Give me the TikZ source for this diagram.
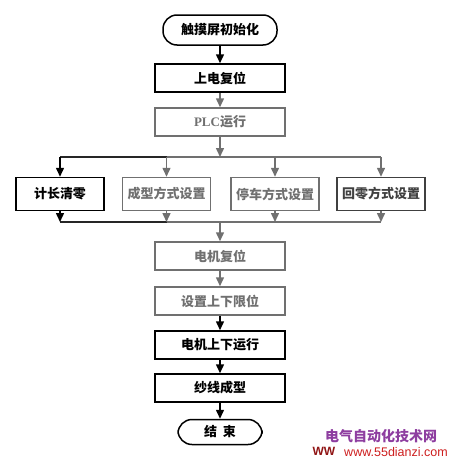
\documentclass[tikz,border=0pt]{standalone}
\usepackage{fontspec}
\setmainfont{Liberation Serif}
\newfontfamily\cjk{Noto Sans CJK SC}
\newfontfamily\webfont{Liberation Sans}
\usetikzlibrary{arrows.meta, positioning, calc}
\definecolor{inkgray}{RGB}{112,112,112}
\definecolor{wmpurple}{RGB}{142,62,160}
\definecolor{wmred}{RGB}{205,30,30}

\begin{document}
\begin{tikzpicture}[x=1pt, y=-1pt,
  proc/.style={draw, line width=1.5pt, minimum width=130pt, minimum height=28pt,
    inner sep=0pt, font=\cjk\bfseries\fontsize{13}{13}\selectfont},
  optbox/.style={proc, minimum width=88pt, minimum height=33pt},
  term/.style={proc, rounded corners=14pt},
  arr/.style={-{Triangle[length=9pt, width=8pt]}, line width=1.5pt},
  bus/.style={line width=1.5pt}]
  \useasboundingbox (0,0) rectangle (460,471);

  % Main column
  \node[term, minimum width=114pt, minimum height=30pt] (init) at (220,30) {触摸屏初始化};
  \node[proc] (reset) at (220,78) {上电复位};
  \node[proc, inkgray] (plc) at (220,122) {{\rmfamily\bfseries PLC}运行};
  \coordinate (bt) at (220,157);

  % Settings
  \node[optbox] (clear) at (60,194) {计长清零};
  \node[optbox, inkgray] (shape) at (166.5,194) {成型方式设置};
  \node[optbox, inkgray] (stop) at (275,194) {停车方式设置};
  \node[optbox, black!75] (home) at (381,194) {回零方式设置};
  \coordinate (bb) at (220,222);

  % Motor and forming
  \node[proc, inkgray] (mreset) at (220,256) {电机复位};
  \node[proc, inkgray] (limit) at (220,301) {设置上下限位};
  \node[proc] (run) at (220,345) {电机上下运行};
  \node[proc] (yarn) at (220,388) {纱线成型};
  \node[term, minimum width=84pt, minimum height=25pt] (end) at (220,432) {结\hspace{0.45em}束};

  % Arrows
  \draw[arr] (init) -- (reset);
  \draw[arr, inkgray] (reset) -- (plc);
  \draw[arr, inkgray] (plc) -- (bt);
  \draw[bus, inkgray] (shape.north |- bt) -- (home.north |- bt);
  \draw[bus, inkgray] (shape.south |- bb) -- (home.south |- bb);
  \draw[bus, black!85] (clear.north |- bt) -- (shape.north |- bt);
  \draw[bus, black!85] (clear.south |- bb) -- (shape.south |- bb);
  \foreach \n/\c in {clear/black, shape/inkgray, stop/inkgray, home/inkgray} {
    \draw[arr, \c] (\n.north |- bt) -- (\n);
    \draw[arr, \c] (\n) -- (\n.south |- bb);
  }
  \draw[arr, inkgray] (bb) -- (mreset);
  \draw[arr, inkgray] (mreset) -- (limit);
  \draw[arr] (limit) -- (run);
  \draw[arr] (run) -- (yarn);
  \draw[arr] (yarn) -- (end);

  % Watermark
  \node[font=\cjk\bfseries\fontsize{14}{14}\selectfont, wmpurple] (wmname) at (381,436) {电气自动化技术网};
  \node[font=\webfont\fontsize{12.5}{12.5}\selectfont, wmred] (wmurl) at (396,452) {www.55dianzi.com};
  \node[font=\webfont\bfseries\fontsize{12}{12}\selectfont, wmred!70!black, left=2pt of wmurl, yshift=1pt] (wmlogo) {WW};
\end{tikzpicture}
\end{document}
